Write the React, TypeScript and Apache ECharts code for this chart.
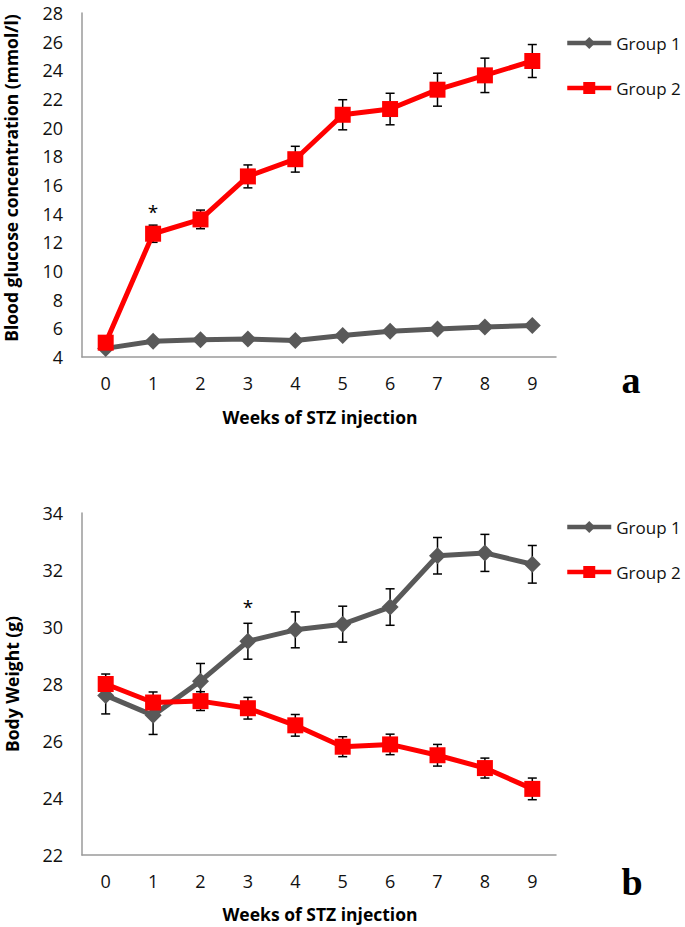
import React, { useEffect, useRef } from "react";
import * as echarts from "echarts";

// ---- data ----
const weeks = ["0", "1", "2", "3", "4", "5", "6", "7", "8", "9"];
const glucoseGroup1 = [4.6, 5.1, 5.2, 5.25, 5.15, 5.5, 5.8, 5.95, 6.1, 6.2];
const glucoseGroup2 = [5.0, 12.6, 13.6, 16.6, 17.8, 20.9, 21.3, 22.65, 23.65, 24.65];
const glucoseGroup2Err = [0.4, 0.6, 0.65, 0.8, 0.9, 1.05, 1.1, 1.15, 1.2, 1.15];
const weightGroup1 = [27.6, 26.9, 28.1, 29.5, 29.9, 30.1, 30.7, 32.5, 32.6, 32.2];
const weightGroup1Err = [0.65, 0.67, 0.62, 0.63, 0.63, 0.63, 0.64, 0.64, 0.65, 0.66];
const weightGroup2 = [28.0, 27.35, 27.4, 27.15, 26.55, 25.8, 25.88, 25.5, 25.05, 24.32];
const weightGroup2Err = [0.35, 0.37, 0.33, 0.38, 0.38, 0.35, 0.36, 0.38, 0.35, 0.38];
const glucoseStars = [[1, 14.15]];
const weightStars = [[3, 30.7]];
const seriesNames = ["Group 1", "Group 2"];

const FONT = "'Open Sans', 'Noto Sans', sans-serif";
const GRAY = "#595959";
const RED = "#ff0000";

function errData(vals: number[], errs: number[]) {
  return vals.map((v, i) => [i, v - errs[i], v + errs[i]]);
}

const errorRender = (params: any, api: any) => {
  const x = api.value(0);
  const lo = api.coord([x, api.value(1)]);
  const hi = api.coord([x, api.value(2)]);
  const hw = 4.5;
  const style = { stroke: "#000", lineWidth: 1.5 };
  return {
    type: "group",
    children: [
      { type: "line", shape: { x1: hi[0], y1: hi[1], x2: lo[0], y2: lo[1] }, style },
      { type: "line", shape: { x1: hi[0] - hw, y1: hi[1], x2: hi[0] + hw, y2: hi[1] }, style },
      { type: "line", shape: { x1: lo[0] - hw, y1: lo[1], x2: lo[0] + hw, y2: lo[1] }, style },
    ],
  };
};

const starRender = (params: any, api: any) => {
  const p = api.coord([api.value(0), api.value(1)]);
  return {
    type: "text",
    x: p[0],
    y: p[1],
    style: { text: "*", fill: "#000", font: `19px ${FONT}`, align: "center", verticalAlign: "middle" },
  };
};

function axisX(gridIndex: number) {
  return {
    type: "category",
    gridIndex,
    data: weeks,
    boundaryGap: true,
    axisLine: { lineStyle: { color: "#9a9a9a", width: 1.5 } },
    axisTick: { show: false },
    axisLabel: { color: "#111", fontSize: 18, fontFamily: FONT, margin: 17 },
  };
}

function axisY(gridIndex: number, min: number, max: number) {
  return {
    type: "value",
    gridIndex,
    min,
    max,
    interval: 2,
    splitLine: { show: false },
    axisLine: { show: true, lineStyle: { color: "#9a9a9a", width: 1.5 } },
    axisTick: { show: false },
    axisLabel: { color: "#111", fontSize: 18, fontFamily: FONT, margin: 19 },
  };
}

function lineSeries(name: string, data: number[], idx: number) {
  const isRed = name === "Group 2";
  return {
    type: "line",
    name,
    xAxisIndex: idx,
    yAxisIndex: idx,
    data,
    symbol: isRed ? "rect" : "diamond",
    symbolSize: isRed ? 16 : 17,
    itemStyle: { color: isRed ? RED : GRAY },
    lineStyle: { color: isRed ? RED : GRAY, width: 5 },
    emphasis: { disabled: true },
  };
}

function errSeries(vals: number[], errs: number[], idx: number) {
  return {
    type: "custom",
    xAxisIndex: idx,
    yAxisIndex: idx,
    data: errData(vals, errs),
    encode: { x: 0, y: [1, 2] },
    renderItem: errorRender,
    silent: true,
  };
}

function starSeries(data: number[][], idx: number) {
  return {
    type: "custom",
    xAxisIndex: idx,
    yAxisIndex: idx,
    data,
    encode: { x: 0, y: 1 },
    renderItem: starRender,
    silent: true,
  };
}

function legend(top: number) {
  return {
    data: seriesNames,
    orient: "vertical",
    left: 565,
    top,
    padding: 0,
    itemWidth: 44,
    itemHeight: 15,
    itemGap: 25,
    selectedMode: false,
    lineStyle: { width: 4.5 },
    textStyle: { color: "#111", fontSize: 17, fontFamily: FONT, lineHeight: 20 },
  };
}

const boldTitle = (text: string, x: number, y: number, vertical: boolean) => ({
  type: "text",
  x,
  y,
  rotation: vertical ? Math.PI / 2 : 0,
  style: {
    text,
    fill: "#000",
    font: `bold 17.5px ${FONT}`,
    align: "center",
    verticalAlign: "middle",
  },
});

const panelLabel = (text: string, x: number, y: number) => ({
  type: "text",
  x,
  y,
  style: {
    text,
    fill: "#000",
    font: "bold 38px 'Liberation Serif', 'DejaVu Serif', serif",
    align: "center",
    verticalAlign: "middle",
  },
});

export default function App() {
  const ref = useRef<HTMLDivElement>(null);
  useEffect(() => {
    if (!ref.current) return;
    const chart = echarts.init(ref.current, null, { renderer: "svg" });
    chart.setOption({
      animation: false,
      backgroundColor: "#fff",
      grid: [
        { left: 82, top: 13, width: 474, height: 344 },
        { left: 82, top: 513, width: 474, height: 342 },
      ],
      xAxis: [axisX(0), axisX(1)],
      yAxis: [axisY(0, 4, 28), axisY(1, 22, 34)],
      legend: [legend(33), legend(517)],
      series: [
        lineSeries("Group 1", glucoseGroup1, 0),
        errSeries(glucoseGroup2, glucoseGroup2Err, 0),
        lineSeries("Group 2", glucoseGroup2, 0),
        starSeries(glucoseStars, 0),
        errSeries(weightGroup1, weightGroup1Err, 1),
        lineSeries("Group 1", weightGroup1, 1),
        errSeries(weightGroup2, weightGroup2Err, 1),
        lineSeries("Group 2", weightGroup2, 1),
        starSeries(weightStars, 1),
      ],
      graphic: [
        boldTitle("Blood glucose concentration (mmol/l)", 11, 178, true),
        boldTitle("Weeks of STZ injection", 320, 417, false),
        boldTitle("Body Weight (g)", 12, 684, true),
        boldTitle("Weeks of STZ injection", 320, 914, false),
        panelLabel("a", 631, 380),
        panelLabel("b", 632, 882),
      ],
    });
    return () => chart.dispose();
  }, []);
  return (
    <div
      ref={ref}
      style={{ position: "absolute", left: 0, top: 0, width: 685, height: 927 }}
    />
  );
}
